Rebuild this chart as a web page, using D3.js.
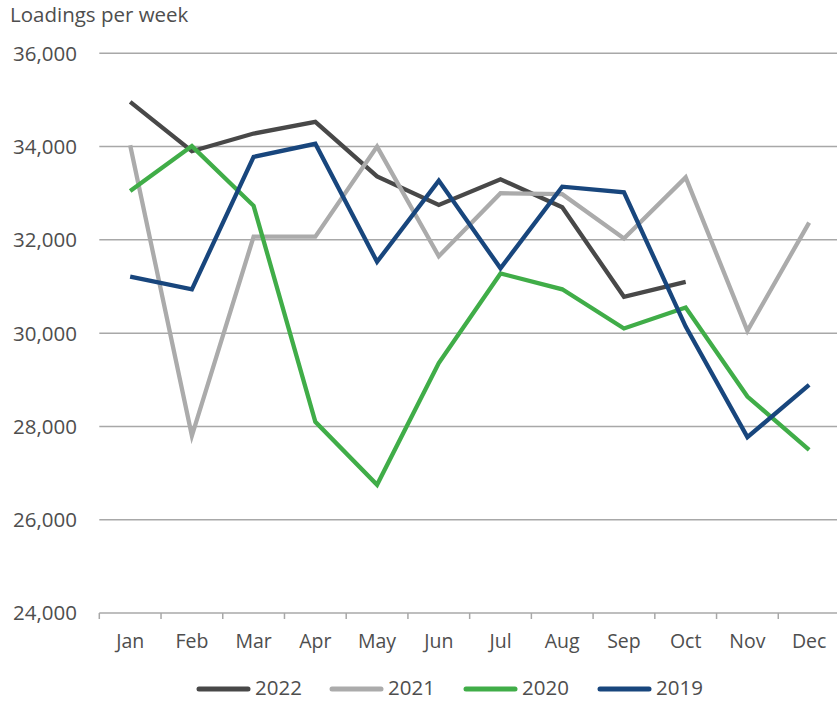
<!DOCTYPE html>
<html><head><meta charset="utf-8">
<script src="https://cdn.jsdelivr.net/npm/d3@7"></script>
<style>
body{margin:0;background:#fff;}
svg text{font-family:"Open Sans",Lato,sans-serif;fill:#4e4e4e;}
</style></head>
<body><svg id="c" width="837" height="701"></svg>
<script>
const months = ["Jan","Feb","Mar","Apr","May","Jun","Jul","Aug","Sep","Oct","Nov","Dec"];
const yTicks = [24000,26000,28000,30000,32000,34000,36000];
const s2022 = [34960,33900,34280,34530,33360,32750,33300,32700,30780,31100,null,null];
const s2021 = [34030,27800,32070,32070,34000,31650,33000,32980,32030,33340,30050,32370];
const s2020 = [33050,34010,32730,28100,26750,29360,31280,30940,30100,30550,28640,27500];
const s2019 = [31210,30940,33780,34060,31530,33270,31390,33140,33020,30140,27770,28890];
const seriesNames = ["2022","2021","2020","2019"];
const seriesColors = ["#484848","#ababab","#40ad48","#18467d"];
const seriesData = [s2022,s2021,s2020,s2019];

(function(){
const svg = d3.select("#c");
const mL = 99.3, mR = 840, mT = 53.3, mB = 613;
const x = d3.scaleBand().domain(months).range([mL, mR]);
const y = d3.scaleLinear().domain([24000,36000]).range([mB, mT]);

svg.append("g").selectAll("line").data(yTicks.filter(d=>d>24000)).join("line")
  .attr("x1", mL).attr("x2", 837).attr("y1", d=>y(d)).attr("y2", d=>y(d))
  .attr("stroke","#a8a8a8").attr("stroke-width",1.5);

svg.append("g").selectAll("text").data(yTicks).join("text")
  .attr("x", 77).attr("y", d=>y(d)).attr("dy","0.36em").attr("text-anchor","end")
  .attr("font-size",20.5).text(d=>d3.format(",")(d));

svg.append("line").attr("x1",mL).attr("x2",837).attr("y1",mB).attr("y2",mB)
  .attr("stroke","#a8a8a8").attr("stroke-width",1.5);
svg.append("g").selectAll("line").data(months).join("line")
  .attr("x1", d=>x(d)).attr("x2", d=>x(d)).attr("y1", mB).attr("y2", mB+6)
  .attr("stroke","#a8a8a8").attr("stroke-width",1.5);
svg.append("g").selectAll("text").data(months).join("text")
  .attr("x", d=>x(d)+x.bandwidth()/2).attr("y", 648).attr("text-anchor","middle")
  .attr("font-size",19.5).text(d=>d);

svg.append("text").attr("x",10).attr("y",22).attr("font-size",20.5).text("Loadings per week");

const line = d3.line().defined(d=>d.v!=null)
  .x(d=>x(d.m)+x.bandwidth()/2).y(d=>y(d.v));
[0,1,2,3].forEach(i=>{
  const pts = months.map((m,j)=>({m, v: seriesData[i][j]}));
  svg.append("path").datum(pts).attr("d",line).attr("fill","none")
    .attr("stroke",seriesColors[i]).attr("stroke-width",4.3).attr("stroke-linejoin","miter");
});

const lx = [197,330,464,598];
seriesNames.forEach((n,i)=>{
  svg.append("line").attr("x1",lx[i]+2).attr("x2",lx[i]+51).attr("y1",689).attr("y2",689)
    .attr("stroke",seriesColors[i]).attr("stroke-width",5).attr("stroke-linecap","round");
  svg.append("text").attr("x",lx[i]+58).attr("y",695).attr("font-size",20.5).text(n);
});
})();
</script></body></html>
